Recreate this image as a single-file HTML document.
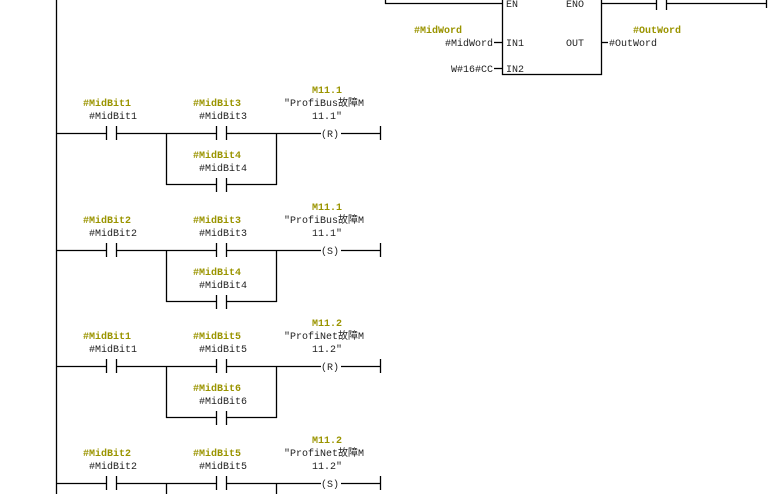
<!DOCTYPE html>
<html><head><meta charset="utf-8"><style>
html,body{margin:0;padding:0;background:#fff;width:770px;height:494px;overflow:hidden;}
svg{display:block}
text{font-family:"Liberation Mono","Noto Sans CJK SC",monospace;font-size:10px;fill:#222}
.o{fill:#9a9400;font-weight:bold}
</style></head><body>
<svg width="770" height="494" viewBox="0 0 770 494" xmlns="http://www.w3.org/2000/svg" style="overflow:hidden">
<g stroke="#000" stroke-width="1.3" fill="none">
<line x1="56.5" y1="0" x2="56.5" y2="494"/>
<line x1="385.5" y1="0" x2="385.5" y2="4"/>
<line x1="385" y1="3.5" x2="502" y2="3.5"/>
<rect x="502.5" y="-5" width="99" height="79.5"/>
<line x1="601" y1="3.5" x2="656" y2="3.5"/>
<line x1="656.5" y1="0" x2="656.5" y2="10"/>
<line x1="666.5" y1="0" x2="666.5" y2="10"/>
<line x1="666" y1="3.5" x2="766" y2="3.5"/>
<line x1="766.5" y1="0" x2="766.5" y2="8"/>
<line x1="494" y1="42.5" x2="502" y2="42.5"/>
<line x1="494" y1="68.5" x2="502" y2="68.5"/>
<line x1="601" y1="42.5" x2="608" y2="42.5"/>
</g>
<text x="506" y="7">EN</text><text x="566" y="7">ENO</text>
<text x="506" y="46">IN1</text><text x="566" y="46">OUT</text>
<text x="506" y="72">IN2</text>
<text class="o" x="414" y="33">#MidWord</text>
<text x="445" y="46">#MidWord</text>
<text x="451" y="72">W#16#CC</text>
<text class="o" x="633" y="33">#OutWord</text>
<text x="609" y="46">#OutWord</text>

<g transform="translate(0,133)">
<g stroke="#000" stroke-width="1.3" fill="none">
<line x1="56" y1="0.5" x2="106" y2="0.5"/><line x1="106.5" y1="-7" x2="106.5" y2="7"/><line x1="116.5" y1="-7" x2="116.5" y2="7"/>
<line x1="116" y1="0.5" x2="216" y2="0.5"/><line x1="216.5" y1="-7" x2="216.5" y2="7"/><line x1="226.5" y1="-7" x2="226.5" y2="7"/>
<line x1="226" y1="0.5" x2="321" y2="0.5"/><line x1="341" y1="0.5" x2="380" y2="0.5"/><line x1="380.5" y1="-7" x2="380.5" y2="7"/>
<line x1="166.5" y1="0" x2="166.5" y2="52"/><line x1="276.5" y1="0" x2="276.5" y2="52"/>
<line x1="166" y1="51.5" x2="216" y2="51.5"/><line x1="216.5" y1="45" x2="216.5" y2="59"/><line x1="226.5" y1="45" x2="226.5" y2="59"/><line x1="226" y1="51.5" x2="277" y2="51.5"/>
</g>
<text x="321" y="4">(R)</text>
<text class="o" x="83" y="-27">#MidBit1</text><text x="89" y="-14">#MidBit1</text>
<text class="o" x="193" y="-27">#MidBit3</text><text x="199" y="-14">#MidBit3</text>
<text class="o" x="193" y="25">#MidBit4</text><text x="199" y="38">#MidBit4</text>
<text class="o" x="312" y="-40">M11.1</text><text x="284" y="-27">"ProfiBus故障M</text><text x="312" y="-14">11.1"</text>
</g>
<g transform="translate(0,250)">
<g stroke="#000" stroke-width="1.3" fill="none">
<line x1="56" y1="0.5" x2="106" y2="0.5"/><line x1="106.5" y1="-7" x2="106.5" y2="7"/><line x1="116.5" y1="-7" x2="116.5" y2="7"/>
<line x1="116" y1="0.5" x2="216" y2="0.5"/><line x1="216.5" y1="-7" x2="216.5" y2="7"/><line x1="226.5" y1="-7" x2="226.5" y2="7"/>
<line x1="226" y1="0.5" x2="321" y2="0.5"/><line x1="341" y1="0.5" x2="380" y2="0.5"/><line x1="380.5" y1="-7" x2="380.5" y2="7"/>
<line x1="166.5" y1="0" x2="166.5" y2="52"/><line x1="276.5" y1="0" x2="276.5" y2="52"/>
<line x1="166" y1="51.5" x2="216" y2="51.5"/><line x1="216.5" y1="45" x2="216.5" y2="59"/><line x1="226.5" y1="45" x2="226.5" y2="59"/><line x1="226" y1="51.5" x2="277" y2="51.5"/>
</g>
<text x="321" y="4">(S)</text>
<text class="o" x="83" y="-27">#MidBit2</text><text x="89" y="-14">#MidBit2</text>
<text class="o" x="193" y="-27">#MidBit3</text><text x="199" y="-14">#MidBit3</text>
<text class="o" x="193" y="25">#MidBit4</text><text x="199" y="38">#MidBit4</text>
<text class="o" x="312" y="-40">M11.1</text><text x="284" y="-27">"ProfiBus故障M</text><text x="312" y="-14">11.1"</text>
</g>
<g transform="translate(0,366)">
<g stroke="#000" stroke-width="1.3" fill="none">
<line x1="56" y1="0.5" x2="106" y2="0.5"/><line x1="106.5" y1="-7" x2="106.5" y2="7"/><line x1="116.5" y1="-7" x2="116.5" y2="7"/>
<line x1="116" y1="0.5" x2="216" y2="0.5"/><line x1="216.5" y1="-7" x2="216.5" y2="7"/><line x1="226.5" y1="-7" x2="226.5" y2="7"/>
<line x1="226" y1="0.5" x2="321" y2="0.5"/><line x1="341" y1="0.5" x2="380" y2="0.5"/><line x1="380.5" y1="-7" x2="380.5" y2="7"/>
<line x1="166.5" y1="0" x2="166.5" y2="52"/><line x1="276.5" y1="0" x2="276.5" y2="52"/>
<line x1="166" y1="51.5" x2="216" y2="51.5"/><line x1="216.5" y1="45" x2="216.5" y2="59"/><line x1="226.5" y1="45" x2="226.5" y2="59"/><line x1="226" y1="51.5" x2="277" y2="51.5"/>
</g>
<text x="321" y="4">(R)</text>
<text class="o" x="83" y="-27">#MidBit1</text><text x="89" y="-14">#MidBit1</text>
<text class="o" x="193" y="-27">#MidBit5</text><text x="199" y="-14">#MidBit5</text>
<text class="o" x="193" y="25">#MidBit6</text><text x="199" y="38">#MidBit6</text>
<text class="o" x="312" y="-40">M11.2</text><text x="284" y="-27">"ProfiNet故障M</text><text x="312" y="-14">11.2"</text>
</g>
<g transform="translate(0,483)">
<g stroke="#000" stroke-width="1.3" fill="none">
<line x1="56" y1="0.5" x2="106" y2="0.5"/><line x1="106.5" y1="-7" x2="106.5" y2="7"/><line x1="116.5" y1="-7" x2="116.5" y2="7"/>
<line x1="116" y1="0.5" x2="216" y2="0.5"/><line x1="216.5" y1="-7" x2="216.5" y2="7"/><line x1="226.5" y1="-7" x2="226.5" y2="7"/>
<line x1="226" y1="0.5" x2="321" y2="0.5"/><line x1="341" y1="0.5" x2="380" y2="0.5"/><line x1="380.5" y1="-7" x2="380.5" y2="7"/>
<line x1="166.5" y1="0" x2="166.5" y2="11"/><line x1="276.5" y1="0" x2="276.5" y2="11"/>
</g>
<text x="321" y="4">(S)</text>
<text class="o" x="83" y="-27">#MidBit2</text><text x="89" y="-14">#MidBit2</text>
<text class="o" x="193" y="-27">#MidBit5</text><text x="199" y="-14">#MidBit5</text>
<text class="o" x="312" y="-40">M11.2</text><text x="284" y="-27">"ProfiNet故障M</text><text x="312" y="-14">11.2"</text>
</g>
</svg>
</body></html>
